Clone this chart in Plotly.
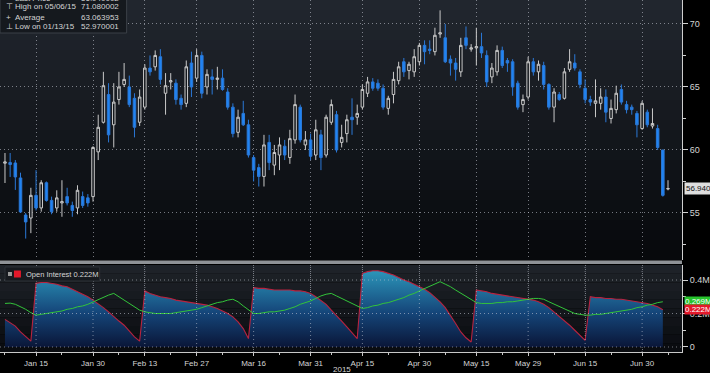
import plotly.graph_objects as go
import pandas as pd

# ---------------- data ----------------
trading_days = [d for d in pd.bdate_range("2015-01-07", "2015-07-07") if d != pd.Timestamp("2015-04-03")]
dates = [d.strftime("%Y-%m-%d") for d in trading_days]

open_ = [58.95, 59.0, 58.97, 57.78, 54.84, 54.6, 56.4, 55.4, 57.4, 56.0,
         55.4, 55.8, 56.3, 55.6, 55.4, 56.3, 56.2, 56.3, 59.85, 62.2,
         64.4, 62.0, 64.0, 65.2, 65.0, 64.1, 62.2, 63.4, 66.5, 66.6,
         67.4, 64.5, 65.4, 65.3, 64.1, 63.7, 66.9, 65.7, 67.5, 65.0,
         65.8, 65.6, 65.7, 64.6, 63.4, 61.4, 62.9, 62.0, 59.4, 58.6,
         57.9, 60.6, 58.8, 59.6, 60.3, 59.4, 60.8, 63.4, 60.4, 60.8,
         59.6, 61.2, 59.6, 62.2, 62.8, 60.6, 61.3, 62.6, 62.6, 63.4,
         64.5, 65.4, 65.3, 64.9, 63.3, 64.4, 65.5, 67.0, 66.3, 66.2,
         67.0, 68.3, 68.0, 67.8, 69.2, 68.9, 67.2, 66.9, 66.2, 68.9,
         68.0, 68.1, 68.2, 67.5, 65.8, 66.2, 67.9, 67.1, 67.0, 65.3,
         63.6, 64.2, 67.0, 66.2, 66.7, 65.2, 63.4, 64.4, 64.1, 66.4,
         66.9, 66.2, 64.9, 64.0, 63.7, 63.7, 64.2, 62.5, 63.2, 64.8,
         63.6, 63.4, 62.9, 61.7, 63.0, 61.9, 61.7, 60.0, 56.9]
high = [59.76, 59.76, 59.2, 58.2, 55.0, 57.0, 58.4, 57.6, 57.5, 56.3,
        56.8, 57.6, 57.0, 55.9, 57.2, 56.7, 56.5, 60.3, 62.8, 66.2,
        65.3, 65.3, 66.2, 66.9, 65.9, 64.5, 64.8, 66.8, 67.5, 67.9,
        68.0, 66.1, 66.1, 65.6, 64.4, 67.1, 67.8, 68.0, 67.8, 66.4,
        66.4, 66.6, 66.4, 64.9, 63.7, 63.2, 63.9, 62.4, 59.6, 58.9,
        61.2, 61.2, 60.4, 61.0, 60.8, 61.6, 64.4, 63.6, 61.5, 61.3,
        62.4, 61.6, 62.8, 64.0, 63.1, 62.0, 62.8, 64.1, 63.6, 65.2,
        65.8, 65.7, 65.6, 65.2, 64.3, 66.2, 67.0, 67.3, 67.0, 68.0,
        68.5, 68.7, 68.7, 69.7, 71.08, 70.0, 67.5, 67.3, 68.9, 69.8,
        68.4, 69.7, 69.3, 67.9, 66.9, 68.3, 68.2, 67.3, 67.2, 65.5,
        64.4, 67.4, 67.3, 67.1, 67.0, 65.3, 64.9, 64.6, 66.5, 68.0,
        67.6, 66.4, 65.6, 64.3, 65.6, 64.9, 64.8, 64.0, 65.1, 65.2,
        63.9, 63.6, 63.1, 63.9, 63.2, 63.3, 62.0, 60.0, 57.6]
low = [57.38, 57.86, 56.83, 55.0, 52.97, 53.4, 55.2, 55.1, 55.9, 54.9,
       55.1, 54.7, 55.6, 54.7, 54.9, 55.4, 55.5, 55.9, 59.2, 62.1,
       60.6, 60.2, 63.6, 65.0, 63.4, 61.0, 61.9, 63.2, 65.9, 66.3,
       65.2, 62.8, 64.8, 63.6, 63.2, 63.4, 64.2, 65.4, 64.1, 64.4,
       64.4, 64.8, 64.7, 63.2, 61.0, 61.0, 61.9, 59.4, 57.5, 57.1,
       57.1, 58.4, 58.0, 58.4, 59.2, 58.9, 60.5, 60.6, 60.0, 59.2,
       59.2, 58.4, 59.4, 62.0, 59.8, 60.2, 60.6, 61.2, 62.0, 63.2,
       64.2, 64.7, 64.7, 63.2, 62.8, 63.7, 65.2, 65.8, 65.6, 65.8,
       66.7, 66.8, 67.6, 67.5, 68.9, 66.9, 65.9, 65.5, 65.8, 68.0,
       67.8, 66.7, 67.3, 65.0, 65.3, 65.9, 66.5, 66.2, 64.3, 63.2,
       63.0, 64.0, 65.9, 65.5, 64.8, 63.2, 62.2, 63.9, 64.0, 66.2,
       66.3, 64.9, 63.7, 63.5, 62.6, 63.2, 62.2, 62.1, 62.9, 63.6,
       62.9, 62.8, 61.0, 61.6, 61.8, 61.7, 60.0, 56.3, 56.8]
close = [59.05, 58.85, 57.86, 55.08, 54.29, 56.4, 55.4, 57.4, 56.0, 55.1,
         56.2, 55.9, 55.8, 55.2, 56.8, 55.6, 55.8, 60.2, 61.8, 65.1,
         61.2, 63.8, 65.0, 65.6, 63.6, 61.8, 64.2, 66.5, 66.2, 67.5,
         65.6, 65.1, 65.5, 64.0, 63.6, 66.6, 65.0, 67.5, 64.5, 66.0,
         65.6, 65.7, 64.8, 63.4, 61.3, 62.6, 62.0, 59.6, 58.4, 57.9,
         60.4, 59.0, 59.8, 60.4, 59.6, 60.9, 63.6, 60.8, 60.8, 59.5,
         61.6, 59.4, 62.6, 63.6, 60.0, 61.0, 62.4, 62.4, 62.9, 64.8,
         65.4, 64.9, 64.9, 63.4, 64.1, 65.6, 66.6, 66.2, 66.8, 67.4,
         68.3, 67.8, 67.9, 69.1, 69.3, 67.0, 66.9, 66.4, 68.3, 68.3,
         68.1, 68.2, 67.7, 65.4, 66.5, 67.9, 66.7, 66.9, 65.0, 63.4,
         64.0, 67.0, 66.2, 66.8, 65.2, 63.4, 64.6, 64.0, 66.2, 67.0,
         66.5, 65.2, 64.0, 63.8, 63.9, 64.2, 63.0, 63.3, 64.5, 63.8,
         63.2, 63.2, 62.0, 63.7, 62.0, 62.1, 60.2, 56.4, 56.94]

# open interest (millions) and its comparison line (green)
open_interest = [0.165, 0.145, 0.125, 0.09, 0.06, 0.035, 0.38, 0.385, 0.385, 0.38,
                 0.375, 0.365, 0.36, 0.345, 0.33, 0.315, 0.30, 0.28, 0.26, 0.235,
                 0.21, 0.18, 0.155, 0.13, 0.095, 0.06, 0.035, 0.335, 0.32, 0.31,
                 0.30, 0.295, 0.29, 0.28, 0.275, 0.27, 0.265, 0.26, 0.255, 0.25,
                 0.24, 0.23, 0.215, 0.20, 0.18, 0.15, 0.11, 0.05, 0.355, 0.35,
                 0.35, 0.345, 0.34, 0.34, 0.34, 0.34, 0.335, 0.335, 0.33, 0.32,
                 0.30, 0.28, 0.255, 0.22, 0.19, 0.155, 0.12, 0.085, 0.05, 0.44,
                 0.45, 0.455, 0.455, 0.45, 0.44, 0.43, 0.415, 0.40, 0.39, 0.375,
                 0.36, 0.345, 0.325, 0.30, 0.27, 0.235, 0.19, 0.14, 0.09, 0.055,
                 0.03, 0.34, 0.335, 0.33, 0.32, 0.315, 0.31, 0.305, 0.30, 0.295,
                 0.29, 0.285, 0.28, 0.27, 0.255, 0.235, 0.21, 0.185, 0.16, 0.13,
                 0.10, 0.07, 0.04, 0.30, 0.295, 0.295, 0.29, 0.29, 0.285, 0.285,
                 0.28, 0.275, 0.27, 0.265, 0.26, 0.25, 0.24, 0.222]
green_line = [0.26, 0.262, 0.255, 0.24, 0.225, 0.205, 0.19, 0.195, 0.20, 0.205,
              0.21, 0.215, 0.225, 0.23, 0.24, 0.245, 0.255, 0.27, 0.28, 0.295,
              0.31, 0.32, 0.30, 0.275, 0.255, 0.235, 0.22, 0.21, 0.205, 0.20,
              0.20, 0.20, 0.20, 0.205, 0.21, 0.215, 0.22, 0.225, 0.235, 0.245,
              0.255, 0.265, 0.27, 0.28, 0.285, 0.27, 0.245, 0.22, 0.20, 0.20,
              0.205, 0.21, 0.21, 0.215, 0.22, 0.23, 0.24, 0.255, 0.265, 0.275,
              0.29, 0.305, 0.315, 0.32, 0.305, 0.29, 0.275, 0.26, 0.245, 0.23,
              0.235, 0.245, 0.25, 0.26, 0.265, 0.275, 0.285, 0.295, 0.31, 0.32,
              0.335, 0.35, 0.36, 0.375, 0.39, 0.375, 0.36, 0.34, 0.32, 0.30,
              0.28, 0.265, 0.26, 0.26, 0.26, 0.265, 0.265, 0.27, 0.27, 0.275,
              0.28, 0.285, 0.29, 0.29, 0.285, 0.27, 0.255, 0.24, 0.225, 0.21,
              0.20, 0.195, 0.19, 0.19, 0.195, 0.195, 0.20, 0.205, 0.21, 0.215,
              0.22, 0.225, 0.235, 0.24, 0.25, 0.255, 0.265, 0.27]

tick_dates = ["2015-01-15", "2015-01-30", "2015-02-13", "2015-02-27", "2015-03-16", "2015-03-31",
              "2015-04-15", "2015-04-30", "2015-05-15", "2015-05-29", "2015-06-15", "2015-06-30"]
tick_labels = ["Jan 15", "Jan 30", "Feb 13", "Feb 27", "Mar 16", "Mar 31",
               "Apr 15", "Apr 30", "May 15", "May 29", "Jun 15", "Jun 30"]
minor_dates = ["2015-01-07", "2015-01-22", "2015-02-06", "2015-02-20", "2015-03-06", "2015-03-23",
               "2015-04-07", "2015-04-22", "2015-05-07", "2015-05-22", "2015-06-05", "2015-06-22", "2015-07-07"]

legend_rows = [("▀", "Last Price", "56.940002"),
               ("⊤", "High on 05/06/15", "71.080002"),
               ("+", "Average", "63.063953"),
               ("⊥", "Low on 01/13/15", "52.970001")]
last_price = 56.94
oi_last = 0.222
green_last = 0.269

# ---------------- layout helpers ----------------
W, H = 710, 373
ML, MR, MT, MB = 0, 26, 0, 21
PW, PH = W - ML - MR, H - MT - MB


def fx(p):
    return p / PW


def fy(p):
    return 1 - p / PH


main_top, main_bot = 0, 260
sub_top, sub_bot = 265, 352

FONT = "Liberation Sans"
TXT = "#d4d4d4"
GRID = "rgba(205,210,220,0.55)"
DOT = "1px,3px"

fig = go.Figure()

fig.add_trace(go.Candlestick(
    x=dates, open=open_, high=high, low=low, close=close,
    increasing=dict(line=dict(color="#c9c9c9", width=1), fillcolor="#14181d"),
    decreasing=dict(line=dict(color="#2b78d6", width=1), fillcolor="#1f84f4"),
    whiskerwidth=0, showlegend=False, xaxis="x", yaxis="y",
))

fig.add_trace(go.Scatter(
    x=dates[:len(open_interest)], y=open_interest, mode="lines",
    line=dict(color="#b8233f", width=1.1),
    fill="tozeroy",
    fillgradient=dict(type="vertical", start=0, stop=0.46,
                      colorscale=[[0, "#0a1638"], [0.45, "#15467a"], [1, "#2c97ba"]]),
    showlegend=False, xaxis="x", yaxis="y2",
))
fig.add_trace(go.Scatter(
    x=dates[:len(green_line)], y=green_line, mode="lines",
    line=dict(color="#33c43a", width=1),
    showlegend=False, xaxis="x", yaxis="y2",
))

shapes = []
# main background gradient
n = 26
c_top, c_bot = (33, 38, 46), (7, 9, 12)
for k in range(n):
    t = k / (n - 1)
    col = tuple(int(round(c_top[j] + (c_bot[j] - c_top[j]) * t)) for j in range(3))
    y0 = main_top + (main_bot - main_top) * k / n
    y1 = main_top + (main_bot - main_top) * (k + 1) / n
    shapes.append(dict(type="rect", xref="paper", yref="paper", x0=0, x1=1,
                       y0=fy(y1), y1=fy(y0), fillcolor="rgb(%d,%d,%d)" % col,
                       line=dict(width=0), layer="below"))
# sub background gradient
n2 = 10
s_top, s_bot = (30, 34, 40), (10, 12, 16)
for k in range(n2):
    t = k / (n2 - 1)
    col = tuple(int(round(s_top[j] + (s_bot[j] - s_top[j]) * t)) for j in range(3))
    y0 = sub_top + (sub_bot - sub_top) * k / n2
    y1 = sub_top + (sub_bot - sub_top) * (k + 1) / n2
    shapes.append(dict(type="rect", xref="paper", yref="paper", x0=0, x1=1,
                       y0=fy(y1), y1=fy(y0), fillcolor="rgb(%d,%d,%d)" % col,
                       line=dict(width=0), layer="below"))
# separator bar
shapes.append(dict(type="rect", xref="paper", yref="paper", x0=0, x1=1,
                   y0=fy(264), y1=fy(260.5), fillcolor="#8f9296", line=dict(width=0)))
# dotted grid over the sub panel
for v in [0, 0.2, 0.4]:
    shapes.append(dict(type="line", xref="paper", yref="y2", x0=0, x1=1, y0=v, y1=v,
                       line=dict(color=GRID, width=1, dash=DOT), layer="above"))
for d in tick_dates:
    shapes.append(dict(type="line", xref="x", yref="paper", x0=d, x1=d, y0=0, y1=fy(sub_top),
                       line=dict(color=GRID, width=1, dash=DOT), layer="above"))
# legend box (main)
shapes.append(dict(type="rect", xref="paper", yref="paper", x0=fx(0), x1=fx(127),
                   y0=fy(33), y1=fy(-3), fillcolor="#15191e",
                   line=dict(color="#3b4047", width=1)))
# legend box (sub)
shapes.append(dict(type="rect", xref="paper", yref="paper", x0=fx(5), x1=fx(100),
                   y0=fy(281), y1=fy(267), fillcolor="#171a1f",
                   line=dict(color="#2c3036", width=1)))
shapes.append(dict(type="rect", xref="paper", yref="paper", x0=fx(8), x1=fx(12),
                   y0=fy(276), y1=fy(272), fillcolor="#9a9a9a", line=dict(width=0)))
shapes.append(dict(type="rect", xref="paper", yref="paper", x0=fx(14), x1=fx(21),
                   y0=fy(277.5), y1=fy(270.5), fillcolor="#e3182a", line=dict(width=0)))

annotations = []
row_y = [-2, 6, 17, 27]
for (icon, label, val), yy in zip(legend_rows, row_y):
    annotations.append(dict(xref="paper", yref="paper", x=fx(4), y=fy(yy), text=icon,
                            showarrow=False, xanchor="left", yanchor="middle",
                            font=dict(family=FONT, size=8, color=TXT)))
    annotations.append(dict(xref="paper", yref="paper", x=fx(13), y=fy(yy), text=label,
                            showarrow=False, xanchor="left", yanchor="middle",
                            font=dict(family=FONT, size=8, color=TXT)))
    annotations.append(dict(xref="paper", yref="paper", x=fx(121), y=fy(yy), text=val,
                            showarrow=False, xanchor="right", yanchor="middle",
                            font=dict(family=FONT, size=8, color=TXT)))
annotations.append(dict(xref="paper", yref="paper", x=fx(24), y=fy(274), text="Open Interest 0.222M",
                        showarrow=False, xanchor="left", yanchor="middle",
                        font=dict(family=FONT, size=7.5, color=TXT)))
annotations.append(dict(xref="paper", yref="y", x=fx(686), y=last_price, text="56.940",
                        showarrow=False, xanchor="left", yanchor="middle", bgcolor="#dedede",
                        borderpad=1, font=dict(family=FONT, size=8, color="#111111")))
annotations.append(dict(xref="paper", yref="y2", x=fx(686), y=green_last, text="0.269M",
                        showarrow=False, xanchor="left", yanchor="middle", bgcolor="#27c42c",
                        borderpad=0, font=dict(family=FONT, size=8, color="#ffffff")))
annotations.append(dict(xref="paper", yref="y2", x=fx(686), y=oi_last, text="0.222M",
                        showarrow=False, xanchor="left", yanchor="middle", bgcolor="#e4192b",
                        borderpad=0, font=dict(family=FONT, size=8, color="#ffffff")))
annotations.append(dict(xref="paper", yref="paper", x=fx(343), y=fy(369), text="2015",
                        showarrow=False, xanchor="center", yanchor="middle",
                        font=dict(family=FONT, size=8, color=TXT)))

fig.update_layout(
    width=W, height=H,
    margin=dict(l=ML, r=MR, t=MT, b=MB, pad=0),
    paper_bgcolor="#000000", plot_bgcolor="rgba(0,0,0,0)",
    showlegend=False,
    xaxis=dict(type="category", categoryorder="array", categoryarray=dates,
               range=[-0.96, 130.7], anchor="y2", rangeslider=dict(visible=False),
               tickmode="array", tickvals=tick_dates, ticktext=tick_labels,
               ticks="outside", ticklen=3, tickcolor="#c8c8c8",
               minor=dict(ticks="outside", tickmode="array", tickvals=minor_dates,
                          ticklen=2, tickcolor="#c8c8c8", showgrid=False),
               showgrid=True, gridcolor=GRID, griddash=DOT, gridwidth=1,
               showline=True, linecolor="#c8c8c8", linewidth=1,
               tickfont=dict(family=FONT, size=8, color=TXT), zeroline=False),
    yaxis=dict(domain=[fy(main_bot), fy(main_top)], range=[51.27, 71.9], side="right",
               anchor="x", tickmode="array", tickvals=[55, 60, 65, 70],
               ticks="outside", ticklen=5, tickcolor="#d0d0d0",
               minor=dict(ticks="outside", tickmode="array", tickvals=[52.5, 57.5, 62.5, 67.5],
                          ticklen=3, tickcolor="#d0d0d0", showgrid=False),
               showgrid=True, gridcolor=GRID, griddash=DOT, gridwidth=1,
               showline=True, linecolor="#cfcfcf", linewidth=1, zeroline=False,
               tickfont=dict(family=FONT, size=9, color=TXT)),
    yaxis2=dict(domain=[fy(sub_bot), fy(sub_top)], range=[-0.0299, 0.4896], side="right",
                anchor="x", tickmode="array", tickvals=[0, 0.2, 0.4], ticktext=["0", "0.2M", "0.4M"],
                ticks="outside", ticklen=5, tickcolor="#d0d0d0",
                minor=dict(ticks="outside", tickmode="array", tickvals=[0.1, 0.3],
                           ticklen=3, tickcolor="#d0d0d0", showgrid=False),
                showgrid=False, showline=True, linecolor="#cfcfcf", linewidth=1, zeroline=False,
                tickfont=dict(family=FONT, size=9, color=TXT)),
    shapes=shapes, annotations=annotations,
)

fig.write_html("out.html")
